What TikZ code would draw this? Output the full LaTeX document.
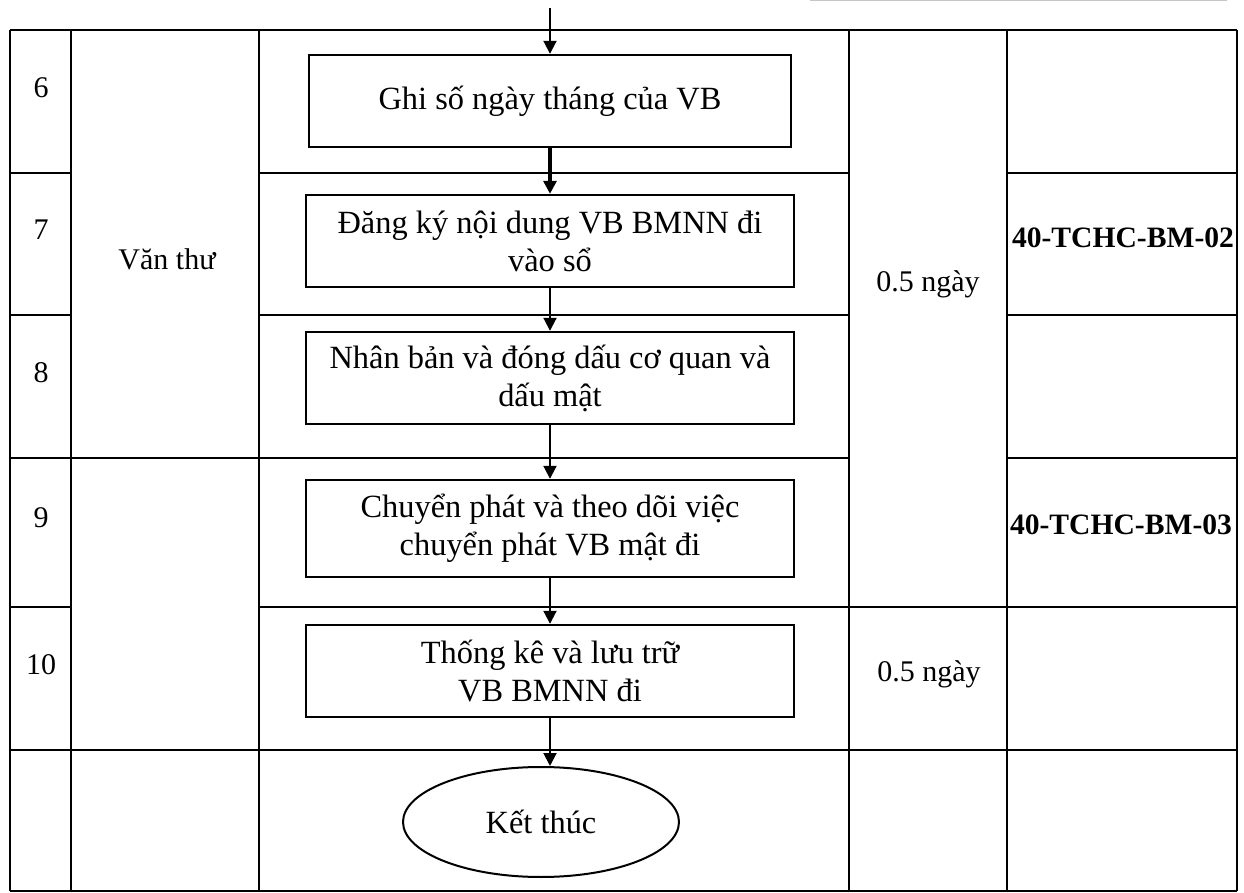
\documentclass[tikz,border=0pt]{standalone}
\usepackage{fontspec}
\setmainfont{Liberation Serif}
\usetikzlibrary{arrows.meta,shapes.geometric}
\begin{document}
\begin{tikzpicture}[x=0.5pt,y=-0.5pt,
  grid/.style={line width=0.8pt},
  stepbox/.style={draw, line width=1.2pt, minimum width=244pt, minimum height=46pt, align=center, inner sep=2pt, font=\fontsize{16.2}{19}\selectfont},
  endnode/.style={draw, ellipse, line width=1pt, minimum width=138pt, minimum height=55pt, inner sep=0pt, font=\fontsize{16.2}{19}\selectfont},
  cell/.style={anchor=base, inner sep=0pt, font=\fontsize{15}{18}\selectfont},
  code/.style={anchor=base, inner sep=0pt, font=\fontsize{14.8}{18}\selectfont\bfseries},
  flow/.style={line width=1pt, -{Triangle[length=6.5pt,width=6.5pt]}},
]
\useasboundingbox (0,0) rectangle (1244,893);
% faint edge of previous table
\draw[gray!45, line width=0.5pt] (810,1) -- (1227,1);
% table grid
\draw[grid] (10,30) -- (1237,30);
\draw[grid] (10,173) -- (71,173) (259,173) -- (849,173) (1007,173) -- (1237,173);
\draw[grid] (10,315) -- (71,315) (259,315) -- (849,315) (1007,315) -- (1237,315);
\draw[grid] (10,458) -- (849,458) (1007,458) -- (1237,458);
\draw[grid] (10,607) -- (71,607) (259,607) -- (1237,607);
\draw[grid] (10,750) -- (1237,750);
\draw[grid] (10,891) -- (1237,891);
\foreach \cx in {10,71,259,849,1007,1237} \draw[grid] (\cx,30) -- (\cx,891);
% cell texts
\node[cell] (n6) at (41,98) {6};
\node[cell] (n7) at (41,240) {7};
\node[cell] (n8) at (41,383) {8};
\node[cell] (n9) at (41,528) {9};
\node[cell] (n10) at (41,675) {10};
\node[cell] (vt) at (167,270) {Văn thư};
\node[cell] (t1) at (928,292) {0.5 ngày};
\node[cell] (t2) at (929,682) {0.5 ngày};
\node[code] (f1) at (1123,248) {40-TCHC-BM-02};
\node[code] (f2) at (1121,535) {40-TCHC-BM-03};
% flow
\node[stepbox, minimum width=241pt] (b1) at (550,101) {Ghi số ngày tháng của VB};
\node[stepbox] (b2) at (550,241) {Đăng ký nội dung VB BMNN đi\\vào sổ};
\node[stepbox] (b3) at (550,378) {Nhân bản và đóng dấu cơ quan và\\dấu mật};
\node[stepbox, minimum height=48.5pt] (b4) at (550,528.5) {Chuyển phát và theo dõi việc\\chuyển phát VB mật đi};
\node[stepbox] (b5) at (550,671) {Thống kê và lưu trữ\\VB BMNN đi};
\node[endnode] (end) at (541,822) {\raisebox{-3pt}{Kết thúc}};
\coordinate (top) at (550,8);
\draw[flow] (top) -- (b1.north);
\draw[flow, line width=1.6pt] (b1.south) -- (b2.north);
\draw[flow] (b2.south) -- (b3.north);
\draw[flow] (b3.south) -- (b4.north);
\draw[flow] (b4.south) -- (b5.north);
\draw[flow] (b5.south) -- (b5.south |- end.north);
\end{tikzpicture}
\end{document}
